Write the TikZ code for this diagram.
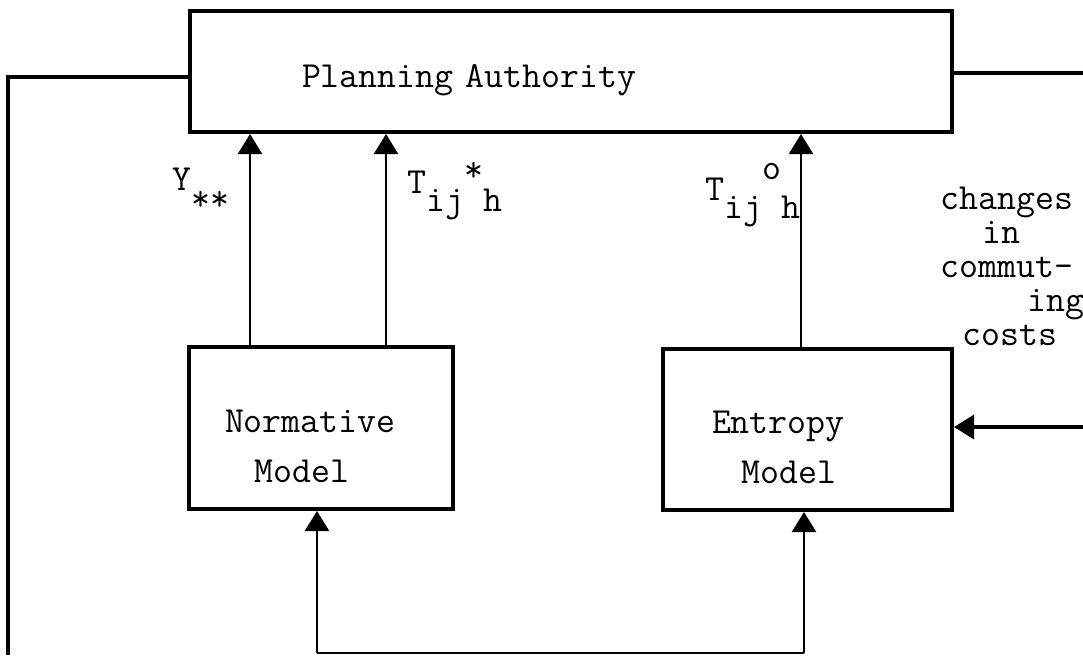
\documentclass[tikz,border=0pt]{standalone}
\usetikzlibrary{positioning,arrows.meta}

\newcommand{\lowr}[2][0.5em]{\raisebox{-#1}{#2}}
\newcommand{\highr}[2][0.3em]{\raisebox{#1}{#2}}

\begin{document}
\begin{tikzpicture}[x=0.5pt, y=-0.5pt, >={Triangle[width=12pt,length=10pt]},
	every box/.style={draw, rectangle, line width=2pt, inner ysep=0pt, align=left,
		font=\ttfamily\fontsize{18.4}{25}\selectfont},
	sym/.style={inner sep=0pt, font=\ttfamily\fontsize{18.4}{17}\selectfont},
	flow/.style={line width=1.2pt},
	feed/.style={line width=1.6pt}]
		
		\useasboundingbox (0,0) rectangle (1083,655);
		
		\node [every box, minimum width=381pt, minimum height=60.5pt, inner xsep=56pt,
		text width=269pt, text height=19.5pt, text depth=4pt] (authority) at (571,71.5) {Planning Authority};
		
		\node [every box, minimum width=132pt, minimum height=81pt, inner xsep=18pt,
		text width=96pt, text height=29pt, text depth=25pt] (normative) at (321,428) {Normative\\\hspace*{0.8em}Model};
		
		\node [every box, minimum width=144.5pt, minimum height=80.5pt, inner xsep=24.5pt,
		text width=95.5pt, text height=29pt, text depth=25pt] (entropy) at (807.5,429.5) {Entropy\\\hspace*{0.8em}Model};
		
		%\foreach \l [count=\i] in {Y, T*, To}
		\node [sym, anchor=base west] (y-label) at (172,190) {Y\lowr[0.55em]{**}};
		\node [sym, anchor=base west] (tstar-label) at (407,193) {T\lowr{ij}\highr{*}\lowr{h}};
		\node [sym, anchor=base west] (tzero-label) at (705,200) {T\lowr{ij}\highr[0.55em]{o}\lowr{h}};
		\node [sym, anchor=north west, align=left] (cost-label) at (940,187)
		{changes\\\hspace*{1.14em}in\\commut-\\\hspace*{2.36em}ing\\\hspace*{0.6em}costs};
		
		\coordinate (left-top) at (8,77);
		\coordinate (left-end) at (8,655);
		\coordinate (right-end) at (1083,73);
		\coordinate (cost-in) at (1083,427);
		\coordinate (base) at (0,653);
		
		\draw [feed] (left-top -| authority.west) -- (left-top) -- (left-end);
		\draw [feed] (right-end -| authority.east) -- (right-end);
		\draw [->, feed] (cost-in) -- (cost-in -| entropy.east);
		
		\draw [->, flow] ([xshift=31.5pt]normative.north west) coordinate (y-out) -- (y-out |- authority.south);
		\draw [->, flow] ([xshift=99.5pt]normative.north west) coordinate (tstar-out) -- (tstar-out |- authority.south);
		\draw [->, flow] ([xshift=70pt]entropy.north west) coordinate (tzero-out) -- (tzero-out |- authority.south);
		
		\path ([xshift=65pt]normative.south west) coordinate (n-in)
		([xshift=71.5pt]entropy.south west) coordinate (e-in);
		\draw [flow] (n-in |- base) -- (e-in |- base);
		\draw [->, flow] (n-in |- base) -- (n-in);
		\draw [->, flow] (e-in |- base) -- (e-in);
		
		\end{tikzpicture}
\end{document}
